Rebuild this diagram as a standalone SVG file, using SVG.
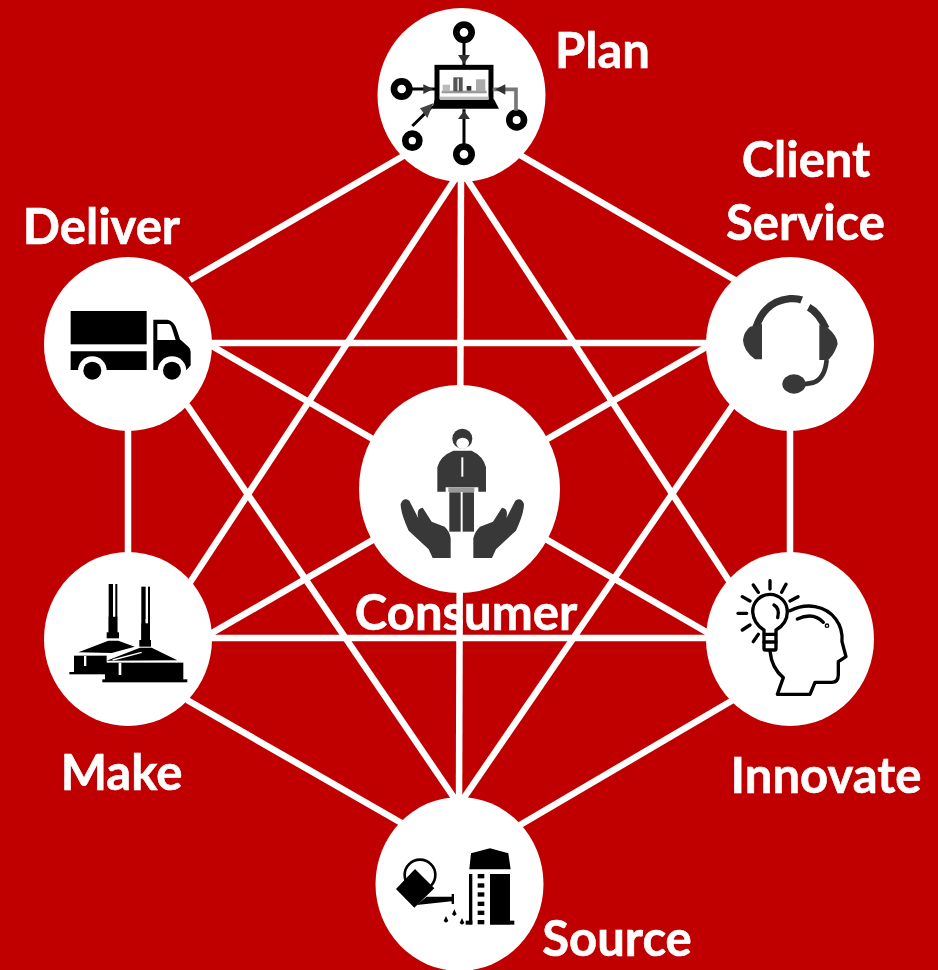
<svg xmlns="http://www.w3.org/2000/svg" width="938" height="970" viewBox="0 0 938 970">
<style>
.c{fill:#fff}
.l{stroke:#fff;stroke-width:6.500;fill:none}
text{font-family:"Lato","Carlito","Liberation Sans",sans-serif;font-weight:700;font-size:49px;fill:#fff;stroke:#fff;stroke-width:.6;text-anchor:middle}
.k{fill:#000}
.d{fill:#383838}
.s{fill:none;stroke:#000;stroke-width:10;stroke-linecap:round;stroke-linejoin:round}
</style>
<rect width="938" height="970" fill="#C00000"/>
<g id="connectors" class="l">
<line x1="405" y1="155" x2="190" y2="280"/>
<line x1="520" y1="155" x2="735" y2="280"/>
<line x1="128" y1="425" x2="128" y2="555"/>
<line x1="790" y1="425" x2="790" y2="555"/>
<line x1="187" y1="700" x2="405" y2="825"/>
<line x1="733" y1="700" x2="520" y2="825"/>
<line x1="205" y1="343" x2="715" y2="343"/>
<line x1="205" y1="638" x2="715" y2="638"/>
<line x1="461" y1="170" x2="187" y2="587"/>
<line x1="461" y1="170" x2="733" y2="587"/>
<line x1="187" y1="405" x2="459" y2="805"/>
<line x1="733" y1="405" x2="459" y2="805"/>
<line x1="461" y1="170" x2="459" y2="805"/>
<line x1="205" y1="342" x2="715" y2="637"/>
<line x1="715" y1="342" x2="205" y2="637"/>
</g>
<g id="plan">
<ellipse class="c" cx="461.500" cy="95" rx="84" ry="87"/>
<g transform="translate(370 0) scale(.3333)">
<rect x="201" y="202" width="162" height="104" fill="none" stroke="#000" stroke-width="15"/>
<polygon class="k" points="195,298 372,298 387,326 186,326"/>
<rect x="210" y="290" width="146" height="10" fill="#bbb"/>
<rect x="215" y="272" width="135" height="8" fill="#999"/>
<rect x="250" y="232" width="28" height="42" fill="#555"/>
<rect x="262" y="236" width="5" height="36" fill="#ddd"/>
<rect x="290" y="258" width="14" height="14" fill="#333"/>
<rect x="318" y="238" width="28" height="36" fill="#aaa"/>
<rect x="218" y="254" width="22" height="20" fill="#bbb"/>
<g fill="none" stroke="#000" stroke-width="20">
<circle cx="282" cy="97" r="23"/><circle cx="95" cy="267" r="23"/><circle cx="440" cy="360" r="22"/><circle cx="127" cy="422" r="21"/><circle cx="282" cy="463" r="23"/>
</g>
<g fill="none" stroke="#000" stroke-width="9">
<path d="M282,125V198M120,267H198M282,328V435M127,378L188,318"/>
<path d="M368,268H438V332" stroke="#777" stroke-width="11"/>
</g>
<path d="M264,165H300L282,192Z" fill="#333"/>
<path d="M160,253L190,267L160,282Z" fill="#333"/>
<path d="M406,253L376,268L406,284Z" fill="#333"/>
<path d="M264,357H300L282,332Z" fill="#333"/>
<path d="M150,325L190,310L172,354Z" fill="#444"/>
</g>
</g>
<g id="deliver">
<ellipse class="c" cx="128" cy="344" rx="84" ry="87"/>
<g transform="translate(40 250) scale(.3333)">
<rect class="k" x="92" y="183" width="228" height="100"/>
<path class="k" d="M92,304H320V360H92Z"/>
<path class="k" d="M340,209H382Q402,212 410,238L420,268L445,290Q452,296 452,306V346L440,360H340Z"/>
<path class="c" d="M352,222H385Q392,222 396,235L407,270H352Z"/>
<circle class="c" cx="157" cy="362" r="43"/><circle class="c" cx="396" cy="362" r="43"/>
<circle class="k" cx="157" cy="362" r="27"/><circle class="k" cx="396" cy="362" r="27"/>
</g>
</g>
<g id="client-service">
<ellipse class="c" cx="790" cy="344" rx="84" ry="87"/>
<g transform="translate(700 250) scale(.3333)">
<path d="M168,232C188,172 225,150 270,146C285,145 295,146 305,150" fill="none" stroke="#333" stroke-width="22"/>
<path d="M326,172C345,182 362,202 378,236" fill="none" stroke="#333" stroke-width="22"/>
<path class="d" d="M150,230L186,222V328H165Q130,302 129,270Q132,245 150,230Z"/>
<path class="d" d="M358,225L385,235Q413,260 413,282Q405,310 385,330H358Z"/>
<path d="M380,330Q375,385 340,398L300,405" fill="none" stroke="#333" stroke-width="14"/>
<ellipse class="d" cx="282" cy="402" rx="35" ry="29"/>
</g>
</g>
<g id="consumer">
<ellipse class="c" cx="459.500" cy="489" rx="100.500" ry="104"/>
<g transform="translate(350 380) scale(.3333)">
<circle class="d" cx="337" cy="176" r="30"/>
<ellipse class="c" cx="338" cy="190" rx="19" ry="17"/>
<path class="d" d="M262,335V262Q270,228 310,212H365Q400,228 408,262V335H385V322H287V335Z"/>
<rect class="c" x="334" y="232" width="6" height="58"/>
<rect x="295" y="322" width="78" height="14" fill="#999"/>
<rect class="d" x="298" y="337" width="34" height="118"/>
<rect class="d" x="338" y="337" width="34" height="118"/>
<path class="d" d="M152,372Q160,350 178,362L205,415Q198,385 218,383L245,425L284,440Q300,455 302,475V534H248L236,508L176,452Q152,400 152,372Z"/>
<path class="d" transform="translate(674 0) scale(-1 1)" d="M152,372Q160,350 178,362L205,415Q198,385 218,383L245,425L284,440Q300,455 304,475V534H248L236,508L176,452Q152,400 152,372Z"/>
</g>
</g>
<g id="make">
<ellipse class="c" cx="128" cy="639" rx="84" ry="87"/>
<g transform="translate(40 545) scale(.3333)">
<rect class="k" x="206" y="117" width="13" height="150"/><rect class="k" x="226" y="117" width="6" height="150"/><rect class="k" x="206" y="215" width="26" height="50"/><rect class="k" x="200" y="262" width="37" height="18"/>
<rect class="c" x="219" y="205" width="6" height="9"/>
<polygon class="k" points="115,322 205,287 235,287 284,305 215,324"/>
<rect class="k" x="102" y="332" width="98" height="50"/><rect class="k" x="88" y="381" width="110" height="7"/>
<rect class="c" x="132" y="333" width="7" height="30"/>
<rect class="k" x="304" y="125" width="13" height="160"/><rect class="k" x="324" y="125" width="6" height="160"/><rect class="k" x="304" y="235" width="26" height="50"/><rect class="k" x="298" y="285" width="35" height="20"/>
<rect class="c" x="317" y="222" width="6" height="10"/>
<polygon class="k" points="200,347 300,308 335,308 412,346"/>
<rect class="k" x="195" y="353" width="235" height="52"/><rect class="k" x="187" y="403" width="255" height="9"/>
<rect class="c" x="236" y="354" width="8" height="36"/>
<path d="M218,345L305,322" stroke="#fff" stroke-width="4"/>
</g>
</g>
<g id="innovate">
<ellipse class="c" cx="790" cy="639" rx="84" ry="87"/>
<g transform="translate(700 545) scale(.3333)" class="s">
<path d="M192,268V255Q160,235 158,200A52,52 0 1 1 262,200Q262,235 228,255V268"/>
<rect x="192" y="268" width="36" height="47" rx="4"/>
<path d="M192,291H228"/>
<path d="M210,107V132M160,120L175,142M258,118L245,142M127,155L150,168M294,155L270,168M114,205H140M127,255L150,240M160,290L175,268"/>
<path d="M222,180Q240,190 233,218"/>
<path d="M270,197Q310,178 345,185C400,195 430,240 426,290L438,335L415,350V390Q415,412 395,412H345L330,448H232L250,398Q215,370 210,318"/>
<path d="M292,222Q340,200 370,232"/>
<circle cx="381" cy="242" r="2"/>
</g>
</g>
<g id="source">
<ellipse class="c" cx="459.500" cy="884" rx="84" ry="87"/>
<g transform="translate(370 790) scale(.3333)">
<circle cx="150" cy="255" r="46" fill="none" stroke="#000" stroke-width="8"/>
<polygon class="k" points="78,297 135,237 193,295 133,353"/>
<path class="k" d="M140,345L170,320H245V312H252V342H245V334Z"/>
<path class="k" d="M228,378L235,393L228,398L221,393ZM253,358L260,373L253,378L246,373ZM276,384L283,399L276,404L269,399Z"/>
<polygon class="k" points="298,238 303,190 360,175 415,190 422,238"/>
<rect class="k" x="297" y="252" width="10" height="151"/><rect class="k" x="287" y="392" width="20" height="12"/>
<rect class="k" x="360" y="252" width="60" height="151"/><rect class="k" x="360" y="392" width="73" height="12"/>
<rect class="k" x="323" y="252" width="20" height="13"/><rect class="k" x="323" y="280" width="20" height="13"/><rect class="k" x="323" y="307" width="20" height="13"/><rect class="k" x="323" y="335" width="20" height="13"/><rect class="k" x="323" y="362" width="20" height="13"/><rect class="k" x="323" y="390" width="20" height="13"/>
</g>
</g>
<g id="labels">
<text x="602.500" y="68">Plan</text>
<text x="806" y="177">Client</text>
<text x="805.500" y="240">Service</text>
<text x="101.500" y="244">Deliver</text>
<text x="466" y="630">Consumer</text>
<text x="121.500" y="790">Make</text>
<text x="826" y="793">Innovate</text>
<text x="617" y="956">Source</text>
</g>
</svg>
